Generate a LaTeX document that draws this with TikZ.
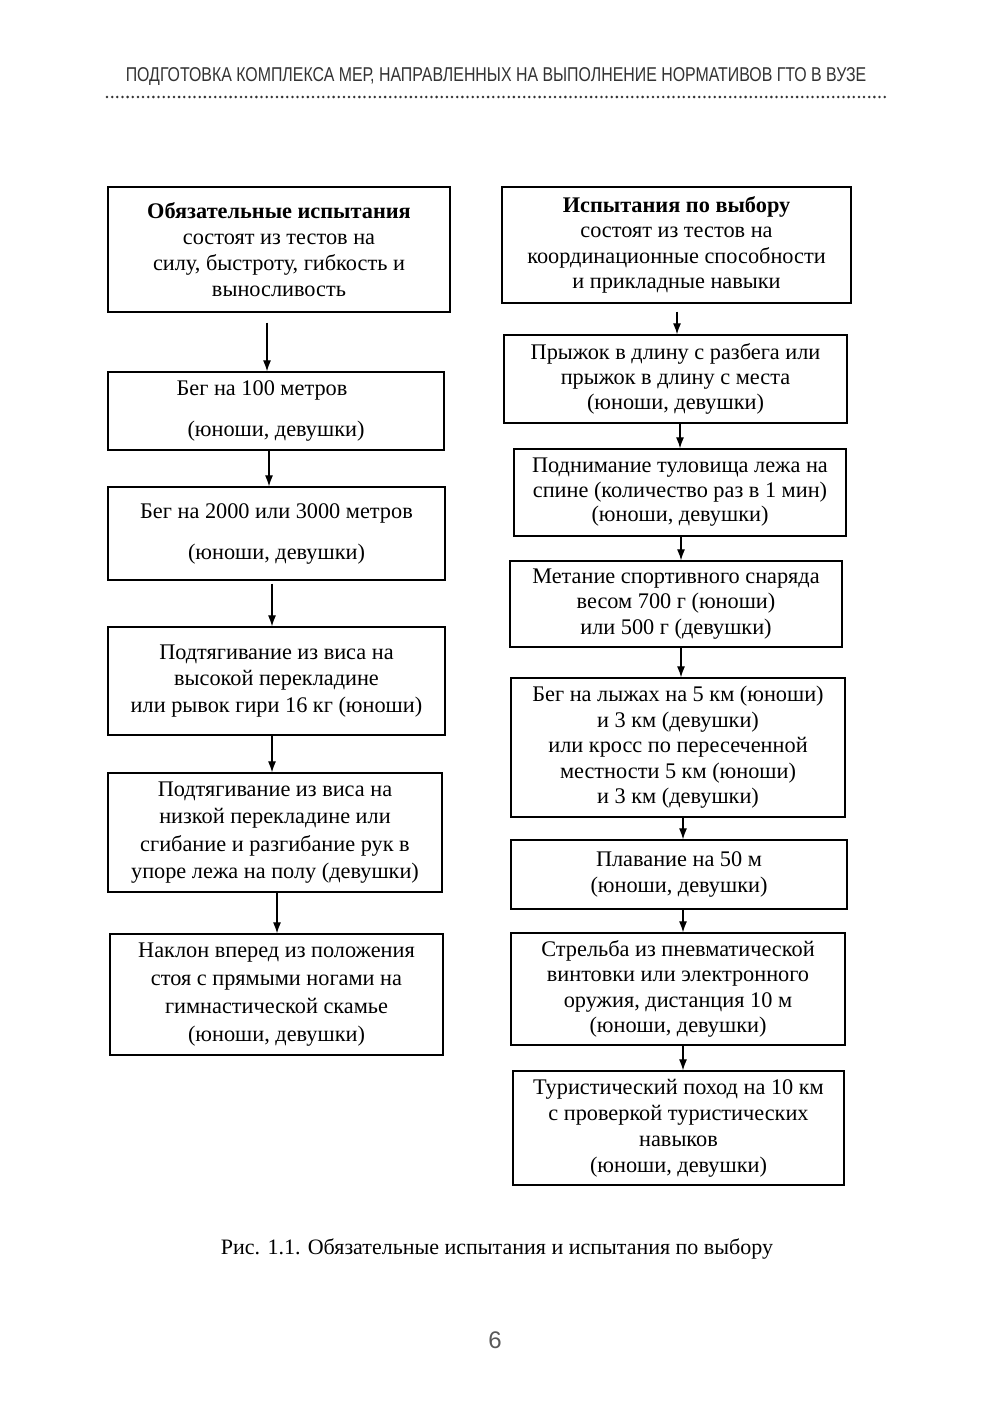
\documentclass[tikz,border=0pt]{standalone}
\usepackage{fontspec}
\setmainfont{Liberation Serif}
\newfontfamily\hdrfont[FakeStretch=0.795]{Liberation Sans}
\newfontfamily\pgfont{Liberation Sans}
\usetikzlibrary{arrows.meta}
\definecolor{hdrgray}{HTML}{333333}
\tikzset{
  box/.style={draw, line width=1.3pt, align=center, inner sep=0pt},
  arr/.style={line width=1.2pt, -{Latex[length=11pt,width=8pt]}},
}
% #1 name, #2 x1, #3 x2, #4 y1, #5 y2, #6 baselineskip, #7 text
\newcommand{\boxat}[7]{%
  \node[box, font=\fontsize{22.3}{#6}\selectfont, minimum width={#3-#2}, minimum height={#5-#4}] (#1) at ({(#2+#3)/2},{(#4+#5)/2}) {#7};}
\begin{document}
\begin{tikzpicture}[x=1pt,y=-1pt]
\useasboundingbox[fill=white] (0,0) rectangle (1004,1418);
% header
\node[text=hdrgray, font=\hdrfont\fontsize{20}{22}\selectfont, anchor=center] (hdr) at (496,77) {ПОДГОТОВКА КОМПЛЕКСА МЕР, НАПРАВЛЕННЫХ НА ВЫПОЛНЕНИЕ НОРМАТИВОВ ГТО В ВУЗЕ};
\coordinate (dl) at (107,97);
\coordinate (dr) at (886,97);
\draw[hdrgray, line width=2.8pt, line cap=round, dash pattern=on 0pt off 5.15pt] (dl) -- (dr);
% left column
\boxat{L0}{108}{450}{187}{312}{26}{\textbf{Обязательные испытания}\\состоят из тестов на\\силу, быстроту, гибкость и\\выносливость}
\boxat{L1}{108}{444}{372}{450}{26}{Бег на 100 метров\hspace*{28pt}\\[15pt](юноши, девушки)}
\boxat{L2}{108}{445}{487}{580}{26}{Бег на 2000 или 3000 метров\\[15pt](юноши, девушки)}
\boxat{L3}{108}{445}{627}{735}{26.5}{Подтягивание из виса на\\высокой перекладине\\или рывок гири 16 кг (юноши)}
\boxat{L4}{108}{442}{773}{892}{27.5}{Подтягивание из виса на\\низкой перекладине или\\сгибание и разгибание рук в\\упоре лежа на полу (девушки)}
\boxat{L5}{110}{443}{934}{1055}{28}{Наклон вперед из положения\\стоя с прямыми ногами на\\гимнастической скамье\\(юноши, девушки)}
% right column
\boxat{R0}{502}{851}{187}{303}{25.3}{\textbf{Испытания по выбору}\\состоят из тестов на\\координационные способности\\и прикладные навыки}
\boxat{R1}{504}{847}{335}{423}{25}{Прыжок в длину с разбега или\\прыжок в длину с места\\(юноши, девушки)}
\boxat{R2}{514}{846}{449}{536}{24.5}{Поднимание туловища лежа на\\спине (количество раз в 1 мин)\\(юноши, девушки)}
\boxat{R3}{510}{842}{561}{647}{25.5}{Метание спортивного снаряда\\весом 700 г (юноши)\\или 500 г (девушки)}
\boxat{R4}{511}{845}{678}{817}{25.5}{Бег на лыжах на 5 км (юноши)\\и 3 км (девушки)\\или кросс по пересеченной\\местности 5 км (юноши)\\и 3 км (девушки)}
\boxat{R5}{511}{847}{840}{909}{26}{Плавание на 50 м\\(юноши, девушки)}
\boxat{R6}{511}{845}{933}{1045}{25.5}{Стрельба из пневматической\\винтовки или электронного\\оружия, дистанция 10 м\\(юноши, девушки)}
\boxat{R7}{513}{844}{1071}{1185}{26}{Туристический поход на 10 км\\с проверкой туристических\\навыков\\(юноши, девушки)}
% arrows left
\draw[arr, shorten <=10pt] (267,0 |- L0.south) -- (267,0 |- L1.north);
\draw[arr] (269,0 |- L1.south) -- (269,0 |- L2.north);
\draw[arr, shorten <=3pt] (272,0 |- L2.south) -- (272,0 |- L3.north);
\draw[arr] (272,0 |- L3.south) -- (272,0 |- L4.north);
\draw[arr] (277,0 |- L4.south) -- (277,0 |- L5.north);
% arrows right
\draw[arr, shorten <=8pt] (677,0 |- R0.south) -- (677,0 |- R1.north);
\draw[arr] (680,0 |- R1.south) -- (680,0 |- R2.north);
\draw[arr] (681,0 |- R2.south) -- (681,0 |- R3.north);
\draw[arr] (681,0 |- R3.south) -- (681,0 |- R4.north);
\draw[arr] (683,0 |- R4.south) -- (683,0 |- R5.north);
\draw[arr] (683,0 |- R5.south) -- (683,0 |- R6.north);
\draw[arr] (683,0 |- R6.south) -- (683,0 |- R7.north);
% caption and page number
\node[font=\fontsize{22}{24}\selectfont] (cap) at (497,1249) {Рис. 1.1. Обязательные испытания и испытания по выбору};
\node[font=\pgfont\fontsize{24}{26}\selectfont, text=black!65] (pg) at (495,1340) {6};
\end{tikzpicture}
\end{document}
